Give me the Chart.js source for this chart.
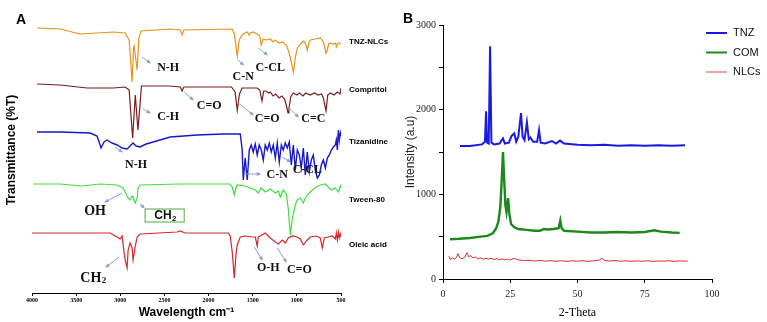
<!DOCTYPE html>
<html>
<head>
<meta charset="utf-8">
<script src="https://cdn.jsdelivr.net/npm/chart.js@4.4.0/dist/chart.umd.min.js"></script>
<style>
  html, body { margin: 0; padding: 0; background: #fff; }
  #wrap { position: relative; width: 767px; height: 322px; overflow: hidden; }
  #graficoFtir { position: absolute; left: 0; top: 0; }
  #graficoXrd { position: absolute; left: 400px; top: 0; }
</style>
</head>
<body>
<div id="wrap">
  <canvas id="graficoFtir" width="400" height="322"></canvas>
  <canvas id="graficoXrd" width="367" height="322"></canvas>
</div>
<script>
// ---------- painel A: FTIR ----------
const nomesFtir = ['TNZ-NLCs', 'Compritol', 'Tizanidine', 'Tween-80', 'Oleic acid']
const coresFtir = ['#e8921c', '#7a1c1c', '#1818c8', '#3ee03e', '#d42828']
const offsetsFtir = [265, 209, 162, 109, 61]
const rotuloYFtir = [251, 203, 151, 93, 48]

const tnzNlcWn = [3943,3682,3456,3263,3081,2945,2900,2866,2850,2843,2809,2790,2764,2435,2320,2299,2280,1732,1709,1675,1653,1619,1590,1562,1540,1528,1494,1449,1420,1403,1380,1346,1301,1270,1244,1200,1160,1120,1090,1060,1040,1018,995,961,927,904,882,860,847,791,734,700,669,655,640,621,587,560,553,530,500]
const tnzNlcT = [0,-1,-6,-5,-4,-5,-12,-54,-20,-18,-42,-10,-3,-1,-2,-7,-2,-1,-6,-28,-12,-7,-5,-4,-7,-5,-4,-6,-8,-17,-11,-12,-11,-14,-12,-15,-14,-17,-24,-35,-44,-30,-20,-16,-13,-15,-22,-14,-12,-11,-10,-14,-25,-22,-16,-15,-16,-15,-19,-15,-16]

const compWn = [3943,3682,3377,3081,2945,2900,2860,2830,2800,2760,2450,2320,2300,2280,1740,1700,1675,1650,1620,1540,1450,1420,1395,1375,1350,1320,1300,1270,1240,1200,1170,1140,1120,1100,1090,1070,1040,1000,970,930,900,850,800,760,720,700,670,650,620,580,540,510,500]
const compT = [0,-1,-4,-4,-3,-6,-54,-11,-46,-2,-2,-3,-7,-3,-3,-8,-26,-10,-4,-4,-4,-6,-17,-7,-7,-9,-8,-12,-10,-14,-12,-15,-21,-29,-25,-13,-9,-11,-9,-12,-9,-11,-9,-11,-10,-14,-27,-11,-9,-11,-8,-10,-4]

const tizWn = [3943,3682,3342,3263,3218,3184,3150,3093,3036,2979,2923,2889,2855,2821,2775,2707,2628,2435,2129,1834,1641,1619,1607,1585,1562,1539,1517,1494,1471,1449,1426,1403,1380,1358,1335,1312,1290,1267,1244,1222,1199,1176,1154,1131,1108,1086,1063,1040,1018,995,972,950,927,904,882,859,836,814,791,768,745,723,700,677,655,632,609,587,564,553,541,530,519,507,500]
const tizT = [-1,-1,-2,-5,-17,-11,-9,-12,-14,-17,-18,-15,-12,-15,-16,-13,-11,-6,-4,-3,-3,-19,-49,-27,-49,-19,-14,-21,-13,-24,-14,-19,-29,-14,-19,-12,-21,-14,-27,-12,-31,-14,-19,-12,-17,-11,-34,-14,-39,-19,-24,-37,-17,-44,-21,-41,-29,-24,-39,-47,-44,-34,-29,-37,-27,-24,-19,-16,-14,-9,-19,1,-9,-2,-5]

const tweenWn = [3989,3682,3433,3229,3036,2968,2911,2889,2866,2855,2832,2809,2798,2775,2322,1755,1732,1709,1687,1675,1585,1528,1471,1437,1403,1358,1301,1244,1210,1188,1154,1120,1097,1074,1052,1018,995,961,927,904,870,825,780,734,677,644,609,564,530,507,500]
const tweenT = [0,0,-2,0,-1,-4,-14,-16,-12,-13,-19,-14,-4,-1,0,0,-3,-11,-3,-1,-2,-4,-6,-9,-4,-8,-5,-9,-7,-13,-6,-10,-25,-51,-35,-21,-16,-14,-19,-14,-10,-6,-3,-1,0,-3,-6,-4,-8,-2,-4]

const oleicoWn = [4000,3456,3116,3036,3002,2979,2968,2945,2923,2911,2889,2866,2855,2832,2809,2775,2356,2322,2265,1777,1755,1732,1709,1687,1675,1641,1585,1505,1471,1449,1437,1415,1358,1301,1244,1210,1165,1131,1097,1052,995,961,927,882,847,780,734,712,689,644,598,564,553,541,530,519,507,500]
const oleicoT = [-1,-1,-1,-5,-7,-4,-13,-28,-36,-18,-11,-16,-28,-15,-5,-2,0,1,-1,-1,-4,-20,-46,-20,-13,-5,-4,-5,-5,-14,-5,-4,-1,-6,-10,-12,-8,-11,-6,-4,-5,-7,-13,-8,-5,-4,-6,-16,-6,-5,-4,-7,-1,-8,0,-6,-2,-5]

const espectrosWn = [tnzNlcWn, compWn, tizWn, tweenWn, oleicoWn]
const espectrosT = [tnzNlcT, compT, tizT, tweenT, oleicoT]

// anotacoes (em unidades dos eixos)
const anotacoes = [
  { texto: 'N-H', x: 2458, y: 225, de: [2753, 236], para: [2662, 230] },
  { texto: 'C-H', x: 2458, y: 176, de: [2741, 184], para: [2662, 180] },
  { texto: 'C=O', x: 1993, y: 187, de: [2276, 201], para: [2174, 193] },
  { texto: 'C-N', x: 1607, y: 216, de: [1664, 233], para: [1607, 228] },
  { texto: 'C-CL', x: 1301, y: 225, de: [1437, 245], para: [1335, 238] },
  { texto: 'C=O', x: 1335, y: 174, de: [1664, 190], para: [1494, 178] },
  { texto: 'C=C', x: 813, y: 174, de: [1097, 186], para: [984, 176] },
  { texto: 'N-H', x: 2821, y: 128, de: [3059, 146], para: [2979, 141] },
  { texto: 'C-N', x: 1222, y: 118, de: [1585, 119], para: [1415, 119] },
  { texto: 'C-CL', x: 881, y: 123, de: [1165, 136], para: [1074, 131] },
  { texto: 'OH', x: 3286, y: 82, de: [2979, 100], para: [3172, 91], grande: true },
  { texto: 'CH', sub: '2', x: 2492, y: 77, de: [2775, 89], para: [2730, 85], caixa: [2719, 84, 2276, 71] },
  { texto: 'CH', sub: '2', x: 3308, y: 15, de: [3013, 36], para: [3161, 26], grande: true },
  { texto: 'O-H', x: 1324, y: 25, de: [1483, 46], para: [1392, 33] },
  { texto: 'C=O', x: 972, y: 23, de: [1222, 45], para: [1120, 31] }
]

// ---------- painel B: XRD ----------
const nomesXrd = ['TNZ', 'COM', 'NLCs']
const tnzTheta = [6.3,10,14.5,15.6,16.0,16.4,17.0,17.5,18.0,19,21,22.3,23,24.5,25.5,26.5,27.2,28,29.0,29.6,30.3,31.2,31.9,32.5,33.5,35.0,35.7,36.3,38,40.5,42,43.5,45,50,55,60,65,70,75,80,85,90]
const tnzInt = [1570,1572,1590,1620,1980,1610,1600,2750,1610,1590,1600,1660,1600,1610,1690,1720,1620,1680,1960,1680,1640,1850,1650,1670,1620,1620,1760,1610,1600,1630,1600,1635,1600,1585,1580,1585,1575,1580,1575,1580,1575,1580]
const comTheta = [2.6,6,10,14,16.5,18.5,19.8,20.6,21.3,21.8,22.3,22.7,23.2,23.6,24.2,24.7,25.3,26.5,28,31,34,36,37.5,39,41,43,43.6,44.1,45,50,55,60,65,70,75,78.5,81,85,88]
const comInt = [470,475,485,500,510,540,600,680,850,1150,1500,1200,870,790,955,760,650,610,590,580,570,570,590,585,590,600,690,600,570,560,550,550,555,550,555,575,560,550,545]
const nlcTheta = [2.2,2.8,3.5,4.3,5.0,5.6,6.2,7.0,8.0,8.9,9.5,10.3,11,12,13,14,15,16,17,18,19,20,21,22,23,24,25,26.5,28,30,32,34,36,38,40,42,44,46,48,50,52,54,56,58,59,60,62,64,66,68,70,72,74,76,78,80,82,84,86,88,90,91]
const nlcInt = [270,230,250,235,255,300,250,240,255,310,265,275,250,260,240,250,235,245,235,245,230,240,228,238,225,235,225,245,225,218,222,212,220,210,218,210,216,208,215,210,216,208,215,222,245,220,212,218,210,216,208,214,210,216,208,214,210,215,208,214,210,212]

function pares(xs, ys, offset) {
  return xs.map((x, i) => ({ x: x, y: ys[i] + (offset || 0) }))
}

function desenhaSeta(ctx, x1, y1, x2, y2) {
  const ang = Math.atan2(y2 - y1, x2 - x1)
  ctx.beginPath()
  ctx.moveTo(x1, y1)
  ctx.lineTo(x2, y2)
  ctx.stroke()
  ctx.beginPath()
  ctx.moveTo(x2 + Math.cos(ang), y2 + Math.sin(ang))
  ctx.lineTo(x2 - 4 * Math.cos(ang - 0.5), y2 - 4 * Math.sin(ang - 0.5))
  ctx.lineTo(x2 - 4 * Math.cos(ang + 0.5), y2 - 4 * Math.sin(ang + 0.5))
  ctx.closePath()
  ctx.fill()
}

const textosFtir = {
  id: 'textosFtir',
  afterDraw(chart) {
    const ctx = chart.ctx
    const sx = chart.scales.x
    const sy = chart.scales.y
    ctx.save()
    // nomes das amostras
    ctx.fillStyle = '#000'
    ctx.font = 'bold 8px "Liberation Sans", Arial'
    ctx.textAlign = 'left'
    ctx.textBaseline = 'middle'
    nomesFtir.forEach((nome, i) => {
      ctx.fillText(nome, chart.chartArea.right + 8, sy.getPixelForValue(rotuloYFtir[i]))
    })
    // anotacoes
    anotacoes.forEach((a) => {
      ctx.strokeStyle = '#7ea5d6'
      ctx.fillStyle = '#7ea5d6'
      ctx.lineWidth = 1
      desenhaSeta(ctx, sx.getPixelForValue(a.de[0]), sy.getPixelForValue(a.de[1]),
        sx.getPixelForValue(a.para[0]), sy.getPixelForValue(a.para[1]))
      const px = sx.getPixelForValue(a.x)
      const py = sy.getPixelForValue(a.y)
      if (a.caixa) {
        const x1 = sx.getPixelForValue(a.caixa[0])
        const y1 = sy.getPixelForValue(a.caixa[1])
        const x2 = sx.getPixelForValue(a.caixa[2])
        const y2 = sy.getPixelForValue(a.caixa[3])
        ctx.strokeStyle = '#4caa3c'
        ctx.lineWidth = 1
        ctx.strokeRect(x1, y1, x2 - x1, y2 - y1)
      }
      ctx.fillStyle = '#111'
      ctx.textBaseline = 'middle'
      const tam = a.grande ? 14 : 12
      const familia = a.caixa ? '"Liberation Sans", Arial' : '"Liberation Serif", "Times New Roman"'
      ctx.font = 'bold ' + tam + 'px ' + familia
      if (a.sub) {
        const w1 = ctx.measureText(a.texto).width
        ctx.font = 'bold ' + Math.round(tam * 0.65) + 'px ' + familia
        const w2 = ctx.measureText(a.sub).width
        const x0 = px - (w1 + w2) / 2
        ctx.font = 'bold ' + tam + 'px ' + familia
        ctx.textAlign = 'left'
        ctx.fillText(a.texto, x0, py)
        ctx.font = 'bold ' + Math.round(tam * 0.65) + 'px ' + familia
        ctx.fillText(a.sub, x0 + w1 + 0.5, py + tam * 0.22)
      } else {
        ctx.textAlign = 'center'
        ctx.fillText(a.texto, px, py)
      }
    })
    // letra do painel e titulo do eixo y
    ctx.fillStyle = '#000'
    ctx.font = 'bold 14px "Liberation Sans", Arial'
    ctx.textAlign = 'center'
    ctx.fillText('A', 21, 20)
    ctx.translate(12, 150)
    ctx.rotate(-Math.PI / 2)
    ctx.font = 'bold 12px "Liberation Sans", Arial'
    ctx.fillText('Transmittance (%T)', 0, 0)
    ctx.restore()
  }
}

const graficoFtir = new Chart(document.querySelector('#graficoFtir'), {
  type: 'line',
  data: {
    datasets: espectrosWn.map((wn, i) => ({
      label: nomesFtir[i],
      data: pares(wn, espectrosT[i], offsetsFtir[i]),
      borderColor: coresFtir[i],
      borderWidth: i === 2 ? 1.4 : 1.2,
      pointRadius: 0,
      tension: 0
    }))
  },
  options: {
    responsive: false,
    devicePixelRatio: 1,
    animation: false,
    layout: { padding: { left: 32, right: 59, top: 3, bottom: 0 } },
    plugins: { legend: { display: false }, tooltip: { enabled: false } },
    scales: {
      x: {
        type: 'linear', reverse: true, min: 500, max: 4000,
        ticks: { stepSize: 500, autoSkip: false, maxRotation: 0, padding: 1, color: '#000',
          font: { family: 'Liberation Serif', size: 6, weight: 'bold' },
          callback: (v) => String(v) },
        grid: { display: true, drawOnChartArea: false, drawTicks: true, tickLength: 3, color: '#000' },
        border: { display: true, color: '#000', width: 1 },
        title: { display: true, text: 'Wavelength cm⁻¹', color: '#000', padding: { top: 0, bottom: 2 },
          font: { family: 'Liberation Sans', size: 12, weight: 'bold' } },
        afterFit: (s) => { s.height = 29 }
      },
      y: { display: false, min: 0, max: 290 }
    }
  },
  plugins: [textosFtir]
})

// ---------- XRD ----------
const legendaXrd = {
  id: 'legendaXrd',
  afterDraw(chart) {
    const ctx = chart.ctx
    ctx.save()
    const cores = ['#1a1ae0', '#1b8a1b', '#f0a4a8']
    ctx.font = '11px "Liberation Sans", Arial'
    ctx.textAlign = 'left'
    ctx.textBaseline = 'middle'
    nomesXrd.forEach((nome, i) => {
      const y = 33 + i * 19.5
      ctx.strokeStyle = cores[i]
      ctx.lineWidth = 2
      ctx.beginPath()
      ctx.moveTo(306, y)
      ctx.lineTo(327, y)
      ctx.stroke()
      ctx.fillStyle = '#111'
      ctx.fillText(nome, 333, y)
    })
    ctx.fillStyle = '#000'
    ctx.font = 'bold 14px "Liberation Sans", Arial'
    ctx.textAlign = 'center'
    ctx.fillText('B', 8, 19)
    ctx.restore()
  }
}

const graficoXrd = new Chart(document.querySelector('#graficoXrd'), {
  type: 'line',
  data: {
    datasets: [
      { label: 'TNZ', data: pares(tnzTheta, tnzInt), borderColor: '#1a1ae0', borderWidth: 2, pointRadius: 0, tension: 0 },
      { label: 'COM', data: pares(comTheta, comInt), borderColor: '#1b8a1b', borderWidth: 2.4, pointRadius: 0, tension: 0 },
      { label: 'NLCs', data: pares(nlcTheta, nlcInt), borderColor: '#e02a2a', borderWidth: 1, pointRadius: 0, tension: 0 }
    ]
  },
  options: {
    responsive: false,
    devicePixelRatio: 1,
    animation: false,
    layout: { padding: { left: 0, right: 55, top: 25, bottom: 0 } },
    plugins: { legend: { display: false }, tooltip: { enabled: false } },
    scales: {
      x: {
        type: 'linear', min: 0, max: 100,
        ticks: { stepSize: 25, padding: 5, color: '#222', font: { family: 'Liberation Serif', size: 10 } },
        grid: { display: true, drawOnChartArea: false, tickLength: 4, color: '#000' },
        border: { display: true, color: '#000', width: 1 },
        title: { display: true, text: '2-Theta', color: '#000', padding: { top: 0, bottom: 2 },
          font: { family: 'Liberation Serif', size: 12 } },
        afterFit: (s) => { s.height = 43 }
      },
      y: {
        min: 0, max: 3000,
        ticks: { stepSize: 500, padding: 3, color: '#222', font: { family: 'Liberation Serif', size: 10 },
          callback: (v) => (v % 1000 === 0 ? String(v) : '') },
        grid: { display: true, drawOnChartArea: false, tickLength: 4, color: '#000' },
        border: { display: true, color: '#000', width: 1 },
        title: { display: true, text: 'Intensity (a.u)', color: '#222', padding: { top: 3, bottom: 0 },
          font: { family: 'Liberation Sans', size: 12 } },
        afterFit: (s) => { s.width = 43 }
      }
    }
  },
  plugins: [legendaXrd]
})
</script>
</body>
</html>
